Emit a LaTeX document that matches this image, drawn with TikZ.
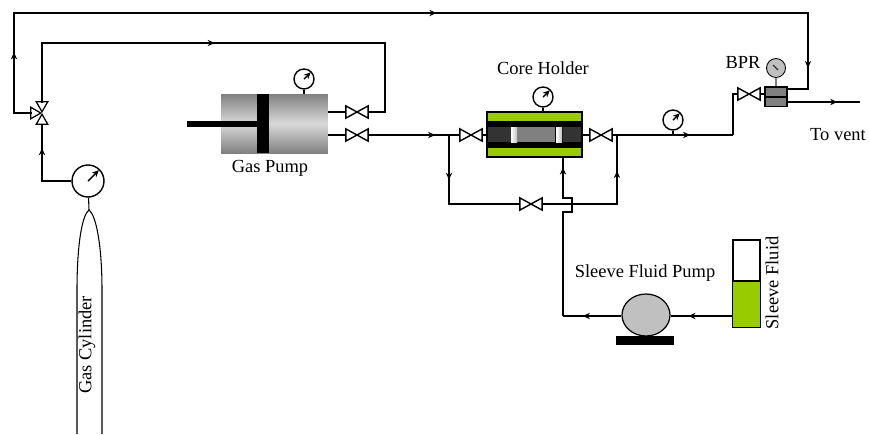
\documentclass[tikz,border=0pt]{standalone}
\usepackage{fontspec}
\setmainfont{Liberation Serif}
\usetikzlibrary{shapes.geometric,arrows.meta,calc,decorations.markings}
\definecolor{sleevecol}{RGB}{153,204,0}
\definecolor{corecol}{RGB}{128,128,128}
\definecolor{endcol}{RGB}{51,51,51}
\definecolor{pumpcol}{RGB}{192,192,192}

\begin{document}
\begin{tikzpicture}[
    x=0.02cm, y=-0.02cm,
    >={Stealth[length=4pt,width=3.6pt]},
    pipe/.style={line width=0.6pt, line join=miter},
    flowat/.style={postaction={decorate, decoration={markings, mark=at position #1 with {\draw[->, line width=1.1pt] (-20,0) -- (0,0);}}}},
    valve/.style={rectangle, inner sep=0pt, minimum width=0.42cm, minimum height=0.22cm, line width=0.7pt,
        append after command={\pgfextra{\draw[line width=0.8pt, fill=white] (\tikzlastnode.north west) -- (\tikzlastnode.south east) -- (\tikzlastnode.north east) -- (\tikzlastnode.south west) -- cycle;}}},
    gauge/.style={circle, draw, fill=white, inner sep=0pt, line width=0.8pt, minimum size=#1,
        path picture={\draw[->, line width=0.8pt] ($(path picture bounding box.south west)!0.5!(path picture bounding box.north east)$) -- ($(path picture bounding box.south west)!0.84!(path picture bounding box.north east)$);}},
    block/.style={rectangle, inner sep=0pt, minimum width=#1},
    waytri/.style={isosceles triangle, isosceles triangle apex angle=60, draw, fill=white, inner sep=0pt, minimum height=0.2cm, minimum width=0.2cm, line width=0.7pt, anchor=apex},
    label/.style={font=\fontsize{10.5pt}{12pt}\selectfont, inner sep=0pt},
]
\useasboundingbox (0,0) rectangle (869,434);

% gas pump
\node[block=2.14cm, minimum height=1.18cm, top color=corecol, bottom color=corecol, middle color=white!85!black] (gaspump) at (274.5,123.5) {};
\node[block=1.4cm, minimum height=0.12cm, fill=black] (rod) at (222,124) {};
\node[block=0.24cm, minimum height=1.18cm, fill=black] (piston) at (263,123.5) {};
\node[gauge=0.4cm] (pumpgauge) at (304,79) {};
\node[label] (pumptext) at (270,168) {Gas Pump};

% core holder
\node[block=1.9cm, minimum height=0.9cm, draw, fill=black, line width=0.8pt] (holder) at (534.5,134.5) {};
\fill[sleevecol] (488,113) rectangle (581,121);
\fill[sleevecol] (488,148) rectangle (581,156);
\fill[endcol] (488,127) rectangle (511,142);
\fill[endcol] (563,127) rectangle (581,142);
\fill[corecol] (517,127) rectangle (555,142);
\shade[left color=white, right color=pumpcol] (511,127) rectangle (517,142);
\shade[left color=white, right color=pumpcol] (556,127) rectangle (562,142);
\node[gauge=0.4cm] (holdergauge) at (543,97) {};
\node[label] (holdertext) at (543,68) {Core Holder};

% valves
\node[valve] (pumpvalveA) at (357,112) {};
\node[valve] (pumpvalveB) at (357,135) {};
\node[valve] (inletvalve) at (471,135) {};
\node[valve] (outletvalve) at (601,135) {};
\node[valve] (bypassvalve) at (531,204) {};
\node[valve] (bprvalve) at (749,94) {};
\node[gauge=0.4cm] (linegauge) at (673,120) {};

% three way valve
\coordinate (threeway) at (42,113);
\coordinate (wayL) at (32,113);
\coordinate (wayT) at (42,103);
\coordinate (wayB) at (42,124);
\node[waytri, shape border rotate=0] (wayleft) at (threeway) {};
\node[waytri, shape border rotate=90] (waytop) at (threeway) {};
\node[waytri, shape border rotate=-90] (waybottom) at (threeway) {};

% gas cylinder
\node[gauge=0.64cm] (cylgauge) at (88,181) {};
\coordinate (cyltop) at (89,210);
\draw[pipe] (cylgauge) -- (cyltop);
\draw[pipe] (77,434) -- (77,290) .. controls (77,245) and (82,215) .. (cyltop) .. controls (96,215) and (102,245) .. (102,290) -- (102,434);
\node[label, rotate=90] (cyltext) at (87,345) {Gas Cylinder};

% sleeve fluid pump
\node[ellipse, draw, fill=pumpcol, inner sep=0pt, minimum width=0.96cm, minimum height=0.84cm, line width=0.7pt] (sleevepump) at (646,315) {};
\node[block=1.16cm, minimum height=0.18cm, fill=black] (pumpbase) at (645,340.5) {};
\node[block=0.54cm, minimum height=1.74cm, draw, line width=0.8pt] (tank) at (746.5,283.5) {};
\fill[sleevecol, draw=black, line width=0.8pt] (tank.south west) rectangle ($(tank.north east)!0.47!(tank.south east)$);
\node[label, rotate=90] (tanktext) at (772,283) {Sleeve Fluid};
\node[label] (sleevetext) at (645,273) {Sleeve Fluid Pump};

% back pressure regulator
\node[block=0.44cm, minimum height=0.2cm, draw, fill=corecol, line width=0.8pt] (bprtop) at (776,92) {};
\node[block=0.44cm, minimum height=0.18cm, draw, fill=corecol, line width=0.8pt] (bprlow) at (776,102) {};
\draw[corecol, line width=1.4pt] (776,68) -- (bprtop);
\node[circle, draw, fill=pumpcol, inner sep=0pt, minimum size=0.38cm, line width=0.5pt,
    path picture={\draw[endcol, line width=0.7pt] (-3,-3) -- (2,2);}] (bprgauge) at (776,68) {};
\node[label] (bprtext) at (743,62) {BPR};
\coordinate (vent) at (860,102);
\node[label] (venttext) at (838,135) {To vent};

% gauge stems
\draw[pipe] (pumpgauge) -- (pumpgauge |- gaspump.north);
\draw[pipe] (holdergauge) -- (holdergauge |- holder.north);
\coordinate (linetee) at (673,136);
\draw[pipe] (linegauge) -- (linetee);

% piping
\coordinate (ca) at (14,113);
\coordinate (cb) at (14,13);
\coordinate (cc) at (808,13);
\coordinate (cd) at (808,89);
\coordinate (ce) at (42,43);
\coordinate (cf) at (385,43);
\coordinate (cg) at (385,112);
\coordinate (ch) at (42,181);
\coordinate (lineg) at (449,135);
\coordinate (lineh) at (617,135);
\coordinate (linei) at (449,204);
\coordinate (linej) at (617,204);
\coordinate (cornera) at (733,94);
\coordinate (cornerb) at (733,135);
\coordinate (jogA) at (563,198);
\coordinate (jogB) at (572,198);
\coordinate (jogC) at (572,212);
\coordinate (jogD) at (563,212);
\coordinate (jogE) at (563,316);
\draw[pipe, flowat=0.078, flowat=0.536, flowat=0.959] (wayL) -- (ca) -- (cb) -- (cc) -- (cd) -- (bprtop.east |- cd);
\draw[pipe, flowat=0.476] (wayT) -- (ce) -- (cf) -- (cg) -- (pumpvalveA);
\draw[pipe, flowat=0.72] (cylgauge.west) -- (ch) -- (wayB);
\draw[pipe] (gaspump.east |- pumpvalveA) -- (pumpvalveA);
\draw[pipe] (gaspump.east |- pumpvalveB) -- (pumpvalveB);
\draw[pipe, flowat=0.73] (pumpvalveB) -- (inletvalve);
\draw[pipe] (inletvalve) -- (holder.west |- inletvalve);
\draw[pipe] (holder.east |- outletvalve) -- (outletvalve);
\draw[pipe, flowat=0.645] (outletvalve) -- (cornerb);
\draw[pipe] (cornerb) -- (cornera) -- (bprvalve);
\draw[pipe] (bprvalve) -- (bprtop.west |- bprvalve);
\draw[pipe, flowat=0.32] (lineg) -- (linei) -- (bypassvalve);
\draw[pipe, flowat=0.75] (bypassvalve) -- (linej) -- (lineh);
\draw[pipe, flowat=0.685] (bprlow.east) -- (vent);
\draw[pipe, flowat=0.66] (sleevepump.west |- jogE) -- (jogE);
\draw[pipe, flowat=0.944] (jogE) -- (jogD) -- (jogC) -- (jogB) -- (jogA) -- (holder.south -| jogA);
\draw[pipe, flowat=0.71] (tank.west |- jogE) -- (sleevepump.east |- jogE);
\end{tikzpicture}
\end{document}
